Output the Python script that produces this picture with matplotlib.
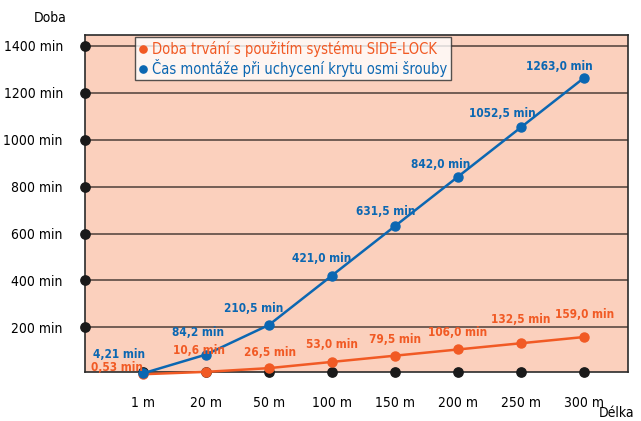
import matplotlib
matplotlib.use("Agg")
import matplotlib.pyplot as plt

# data
lengths = ["1 m", "20 m", "50 m", "100 m", "150 m", "200 m", "250 m", "300 m"]
side_lock = [0.53, 10.6, 26.5, 53.0, 79.5, 106.0, 132.5, 159.0]
eight_screws = [4.21, 84.2, 210.5, 421.0, 631.5, 842.0, 1052.5, 1263.0]
y_ticks = [200, 400, 600, 800, 1000, 1200, 1400]

name_side = "Doba trvání s použitím systému SIDE-LOCK"
name_screws = "Čas montáže při uchycení krytu osmi šrouby"

# label offsets in pixels (dx, dy)
off_side = [(-26, 7), (-7, 21), (1, 16), (0, 17), (0, 16), (0, 17), (0, 24), (1, 23)]
off_screws = [(-24, 19), (-8, 22), (-15, 16), (-10, 17), (-9, 15), (-17, 12), (-19, 14), (-25, 11)]

ORANGE = "#f15a24"
BLUE = "#0b67b2"
BG = "#fbd0bd"
GRID = "#4d3f38"

plt.rcParams["font.family"] = ["DejaVu Sans"]
plt.rcParams["font.stretch"] = "condensed"

DPI = 100
fig = plt.figure(figsize=(6.41, 4.21), dpi=DPI)
W, H = 641, 421
ax = fig.add_axes([85 / W, 1 - 372 / H, (628 - 85) / W, (372 - 35) / H])
ax.set_facecolor(BG)

x = list(range(len(lengths)))
x0, x1 = -0.92, 7.70
y0, y1 = 10, 1446
ax.set_xlim(x0, x1)
ax.set_ylim(y0, y1)

for t in y_ticks:
    ax.axhline(t, color=GRID, lw=1.1, zorder=1)

ax.plot(x, side_lock, color=ORANGE, lw=1.8, marker="o", ms=6.5, zorder=4,
        clip_on=False, label=name_side)
ax.plot(x, eight_screws, color=BLUE, lw=1.8, marker="o", ms=6.5, zorder=5,
        clip_on=False, label=name_screws)

for xi, v, (dx, dy) in zip(x, side_lock, off_side):
    s = f"{v:.2f}" if v < 1 else f"{v:.1f}"
    ax.annotate(s.replace(".", ",") + " min", (xi, v), xytext=(dx * 0.72, dy * 0.72),
                textcoords="offset points", ha="center", va="center",
                color=ORANGE, fontsize=8.5, fontweight="bold", zorder=6,
                annotation_clip=False)
for xi, v, (dx, dy) in zip(x, eight_screws, off_screws):
    s = f"{v:.2f}" if v < 10 else f"{v:.1f}"
    ax.annotate(s.replace(".", ",") + " min", (xi, v), xytext=(dx * 0.72, dy * 0.72),
                textcoords="offset points", ha="center", va="center",
                color=BLUE, fontsize=8.5, fontweight="bold", zorder=6,
                annotation_clip=False)

# black dots on axes
ax.scatter([x0] * len(y_ticks), y_ticks, s=45, color="#1a1a1a", zorder=7, clip_on=False)
ax.scatter(x, [y0] * len(x), s=45, color="#1a1a1a", zorder=3, clip_on=False)

for sp in ax.spines.values():
    sp.set_color("#2b2b2b")
    sp.set_linewidth(1.2)

ax.set_yticks(y_ticks)
ax.set_yticklabels([f"{t} min" for t in y_ticks], fontsize=10)
ax.set_xticks(x)
ax.set_xticklabels(lengths, fontsize=10)
ax.tick_params(axis="y", length=0, pad=16)
ax.tick_params(axis="x", length=0, pad=17)

fig.text(50 / W, 1 - 18 / H, "Doba", ha="center", va="center", fontsize=10)
fig.text(617 / W, 1 - 413 / H, "Délka", ha="center", va="center", fontsize=10)

leg = ax.legend(loc="upper left", bbox_to_anchor=((135 - 85) / (628 - 85), 1 - 2 / 337),
                frameon=True, fancybox=False, fontsize=10.5, handlelength=0.6,
                handletextpad=0.3, borderpad=0.25, labelspacing=0.15,
                borderaxespad=0, markerscale=0.8)
leg.get_frame().set_edgecolor("#2b2b2b")
leg.get_frame().set_linewidth(1.0)
leg.set_zorder(10)
for h in leg.legend_handles:
    h.set_linestyle("none")
for t, c in zip(leg.get_texts(), [ORANGE, BLUE]):
    t.set_color(c)

fig.savefig("out.png", dpi=DPI)
